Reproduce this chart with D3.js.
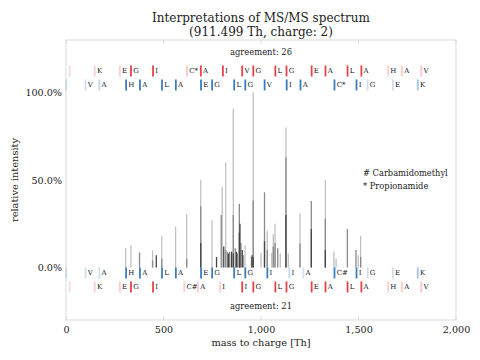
<!DOCTYPE html>
<html><head><meta charset="utf-8">
<script src="https://cdn.jsdelivr.net/npm/d3@7"></script>
<style>
html,body{margin:0;padding:0;background:#fff;}
svg text{font-family:"DejaVu Serif",serif;fill:#222;}
</style></head>
<body><svg id="c" width="480" height="360"></svg>
<script>
// ---- data ----
const titleLines = ["Interpretations of MS/MS spectrum", "(911.499 Th, charge: 2)"];
const xTicks = [0, 500, 1000, 1500, 2000];
const yTicks = [0, 0.5, 1.0];
const legendLines = ["# Carbamidomethyl", "* Propionamide"];
const agreementTop = "agreement: 26";
const agreementBottom = "agreement: 21";

// peaks: light (full height), mid and dark overlays  [m/z, relative intensity]
const lightPeaks = [
  [306,0.11],[333,0.126],[444,0.097],[491,0.18],[562,0.234],[619,0.305],[691,0.50],
  [749,0.27],[801,0.46],[819,0.60],[858,0.907],[918,0.126],[960,1.0],[1000,0.085],
  [1032,0.21],[1055,0.085],[1063,0.19],[1072,0.25],[1099,0.08],[1128,0.80],[1140,0.08],
  [1200,0.31],[1330,0.50],[1374,0.091],[1385,0.05],[1499,0.07],[1511,0.18]
];
const midPeaks = [
  [377,0.086],[444,0.04],[491,0.05],[619,0.05],[691,0.35],[796,0.30],[819,0.10],
  [828,0.09],[839,0.09],[858,0.30],[868,0.11],[879,0.08],[889,0.364],[897,0.14],
  [909,0.07],[951,0.06],[960,0.383],[1018,0.43],[1032,0.10],[1063,0.12],[1072,0.14],
  [1086,0.11],[1128,0.63],[1200,0.137],[1258,0.38],[1330,0.28],[1443,0.22],[1487,0.10],[1511,0.06]
];
const darkPeaks = [
  [463,0.07],[691,0.14],[772,0.06],[809,0.12],[833,0.08],[849,0.09],[858,0.08],
  [874,0.09],[889,0.20],[892,0.25],[904,0.10],[954,0.07],[960,0.06],[1018,0.15],
  [1128,0.30],[1258,0.22],[1330,0.10]
];

// annotation rows
const topB_mz = [1.0,100.1,171.1,308.2,379.2,492.3,563.3,692.4,749.4,862.5,919.5,1018.6,1131.7,1202.7,1376.8,1489.8,1546.8,1675.9,1804.0];
const topB_lab = ["","V","A","H","A","L","A","E","G","L","G","V","I","A","C*","I","G","E","K"];
const topB_alpha = [0.2,0.25,0.3,1,1,1,1,1,1,1,1,1,1,1,1,1,0.25,0.25,0.45];

const topY_mz = [19.0,147.1,276.2,333.2,446.3,620.3,691.4,804.5,903.5,960.5,1073.6,1130.6,1259.7,1330.7,1443.8,1514.8,1651.9,1722.9,1822.0];
const topY_lab = ["","K","E","G","I","C*","A","I","V","G","L","G","E","A","L","A","H","A","V"];
const topY_alpha = [0.2,0.25,0.25,1,1,0.3,1,1,1,1,1,1,1,1,1,1,0.25,0.25,0.3];

const botB_mz = [1.0,100.1,171.1,308.2,379.2,492.3,563.3,692.4,749.4,862.5,919.5,1032.6,1145.7,1216.7,1376.8,1489.8,1546.8,1675.9,1804.0];
const botB_lab = ["","V","A","H","A","L","A","E","G","L","G","I","I","A","C#","I","G","E","K"];
const botB_alpha = [0.2,0.25,0.25,1,1,1,1,1,1,1,1,1,0.3,0.2,1,1,0.25,0.25,0.45];

const botY_mz = [19.0,147.1,276.2,333.2,446.3,606.3,677.3,790.4,903.5,960.5,1073.6,1130.6,1259.7,1330.7,1443.8,1514.8,1651.9,1722.9,1822.0];
const botY_lab = ["","K","E","G","I","C#","A","I","I","G","L","G","E","A","L","A","H","A","V"];
const botY_alpha = [0.2,0.25,0.25,1,1,0.25,0.25,0.25,1,1,1,1,1,1,1,1,0.25,0.25,0.3];

const rowLevels = {topY:1.123, topB:1.043, botB:-0.031, botY:-0.111};
const RED = "#e8434a", BLUE = "#3a7dc0";

// ---- drawing ----
const svg = d3.select("#c");
const L = 66, R = 456, T = 40, B = 320;
const x = d3.scaleLinear().domain([0, 2000]).range([L, R]);
const y = d3.scaleLinear().domain([-0.3, 1.3]).range([B, T]);

// frame
svg.append("rect").attr("x", L).attr("y", T).attr("width", R - L).attr("height", B - T)
  .attr("fill", "none").attr("stroke", "#e2e2e2").attr("stroke-width", 1.2);

// ticks inside top/bottom
xTicks.forEach(t => {
  svg.append("line").attr("x1", x(t)).attr("x2", x(t)).attr("y1", T).attr("y2", T + 3.5).attr("stroke", "#d8d8d8");
  svg.append("line").attr("x1", x(t)).attr("x2", x(t)).attr("y1", B).attr("y2", B - 3.5).attr("stroke", "#d8d8d8");
});

// axes labels via d3 axes
const xAxis = d3.axisBottom(x).tickValues(xTicks).tickFormat(d3.format(",")).tickSize(0).tickPadding(6);
const gx = svg.append("g").attr("transform", `translate(0,${B})`).call(xAxis);
gx.select(".domain").remove();
gx.selectAll("text").style("font-family", "DejaVu Serif").style("font-size", "9.6px").attr("fill", "#222");

const yAxis = d3.axisLeft(y).tickValues(yTicks).tickFormat(d3.format(".1%")).tickSize(0).tickPadding(4);
const gy = svg.append("g").attr("transform", `translate(${L},0)`).call(yAxis);
gy.select(".domain").remove();
gy.selectAll("text").style("font-family", "DejaVu Serif").style("font-size", "9.6px").attr("fill", "#222");

// peaks
function drawPeaks(data, color) {
  svg.append("g").selectAll("line").data(data).join("line")
    .attr("x1", d => x(d[0])).attr("x2", d => x(d[0]))
    .attr("y1", y(0)).attr("y2", d => y(d[1]))
    .attr("stroke", color).attr("stroke-width", 1.3);
}
drawPeaks(lightPeaks, "#c0c0c0");
drawPeaks(midPeaks, "#8a8a8a");
drawPeaks(darkPeaks, "#454545");

// annotation rows
function drawRow(mz, labels, alphas, level, color) {
  const g = svg.append("g");
  const yc = y(level);
  mz.forEach((m, i) => {
    g.append("line").attr("x1", x(m)).attr("x2", x(m))
      .attr("y1", yc - 5.5).attr("y2", yc + 5.5)
      .attr("stroke", color).attr("stroke-opacity", alphas[i]).attr("stroke-width", 1.8);
    if (labels[i]) {
      g.append("text").attr("x", x(m) + 2.2).attr("y", yc).attr("dy", "0.35em")
        .style("font-size", "7px").text(labels[i]);
    }
  });
}
drawRow(topY_mz, topY_lab, topY_alpha, rowLevels.topY, RED);
drawRow(topB_mz, topB_lab, topB_alpha, rowLevels.topB, BLUE);
drawRow(botB_mz, botB_lab, botB_alpha, rowLevels.botB, BLUE);
drawRow(botY_mz, botY_lab, botY_alpha, rowLevels.botY, RED);

// agreement texts
svg.append("text").attr("x", (L + R) / 2).attr("y", 52).attr("dy", "0.35em")
  .attr("text-anchor", "middle").style("font-size", "8.4px").text(agreementTop);
svg.append("text").attr("x", (L + R) / 2).attr("y", 306).attr("dy", "0.35em")
  .attr("text-anchor", "middle").style("font-size", "8.4px").text(agreementBottom);

// legend
legendLines.forEach((t, i) => {
  svg.append("text").attr("x", 363).attr("y", 173 + i * 13).attr("dy", "0.35em")
    .style("font-size", "8.3px").text(t);
});

// title
titleLines.forEach((t, i) => {
  svg.append("text").attr("x", (L + R) / 2).attr("y", 18 + i * 13.5).attr("dy", "0.35em")
    .attr("text-anchor", "middle").style("font-size", "12px").text(t);
});

// axis titles
svg.append("text").attr("x", (L + R) / 2).attr("y", 343).attr("dy", "0.35em")
  .attr("text-anchor", "middle").style("font-size", "9.8px").text("mass to charge [Th]");
svg.append("text").attr("transform", `translate(15,${y(0.5)}) rotate(-90)`).attr("dy", "0.35em")
  .attr("text-anchor", "middle").style("font-size", "9.8px").text("relative intensity");
</script></body></html>
